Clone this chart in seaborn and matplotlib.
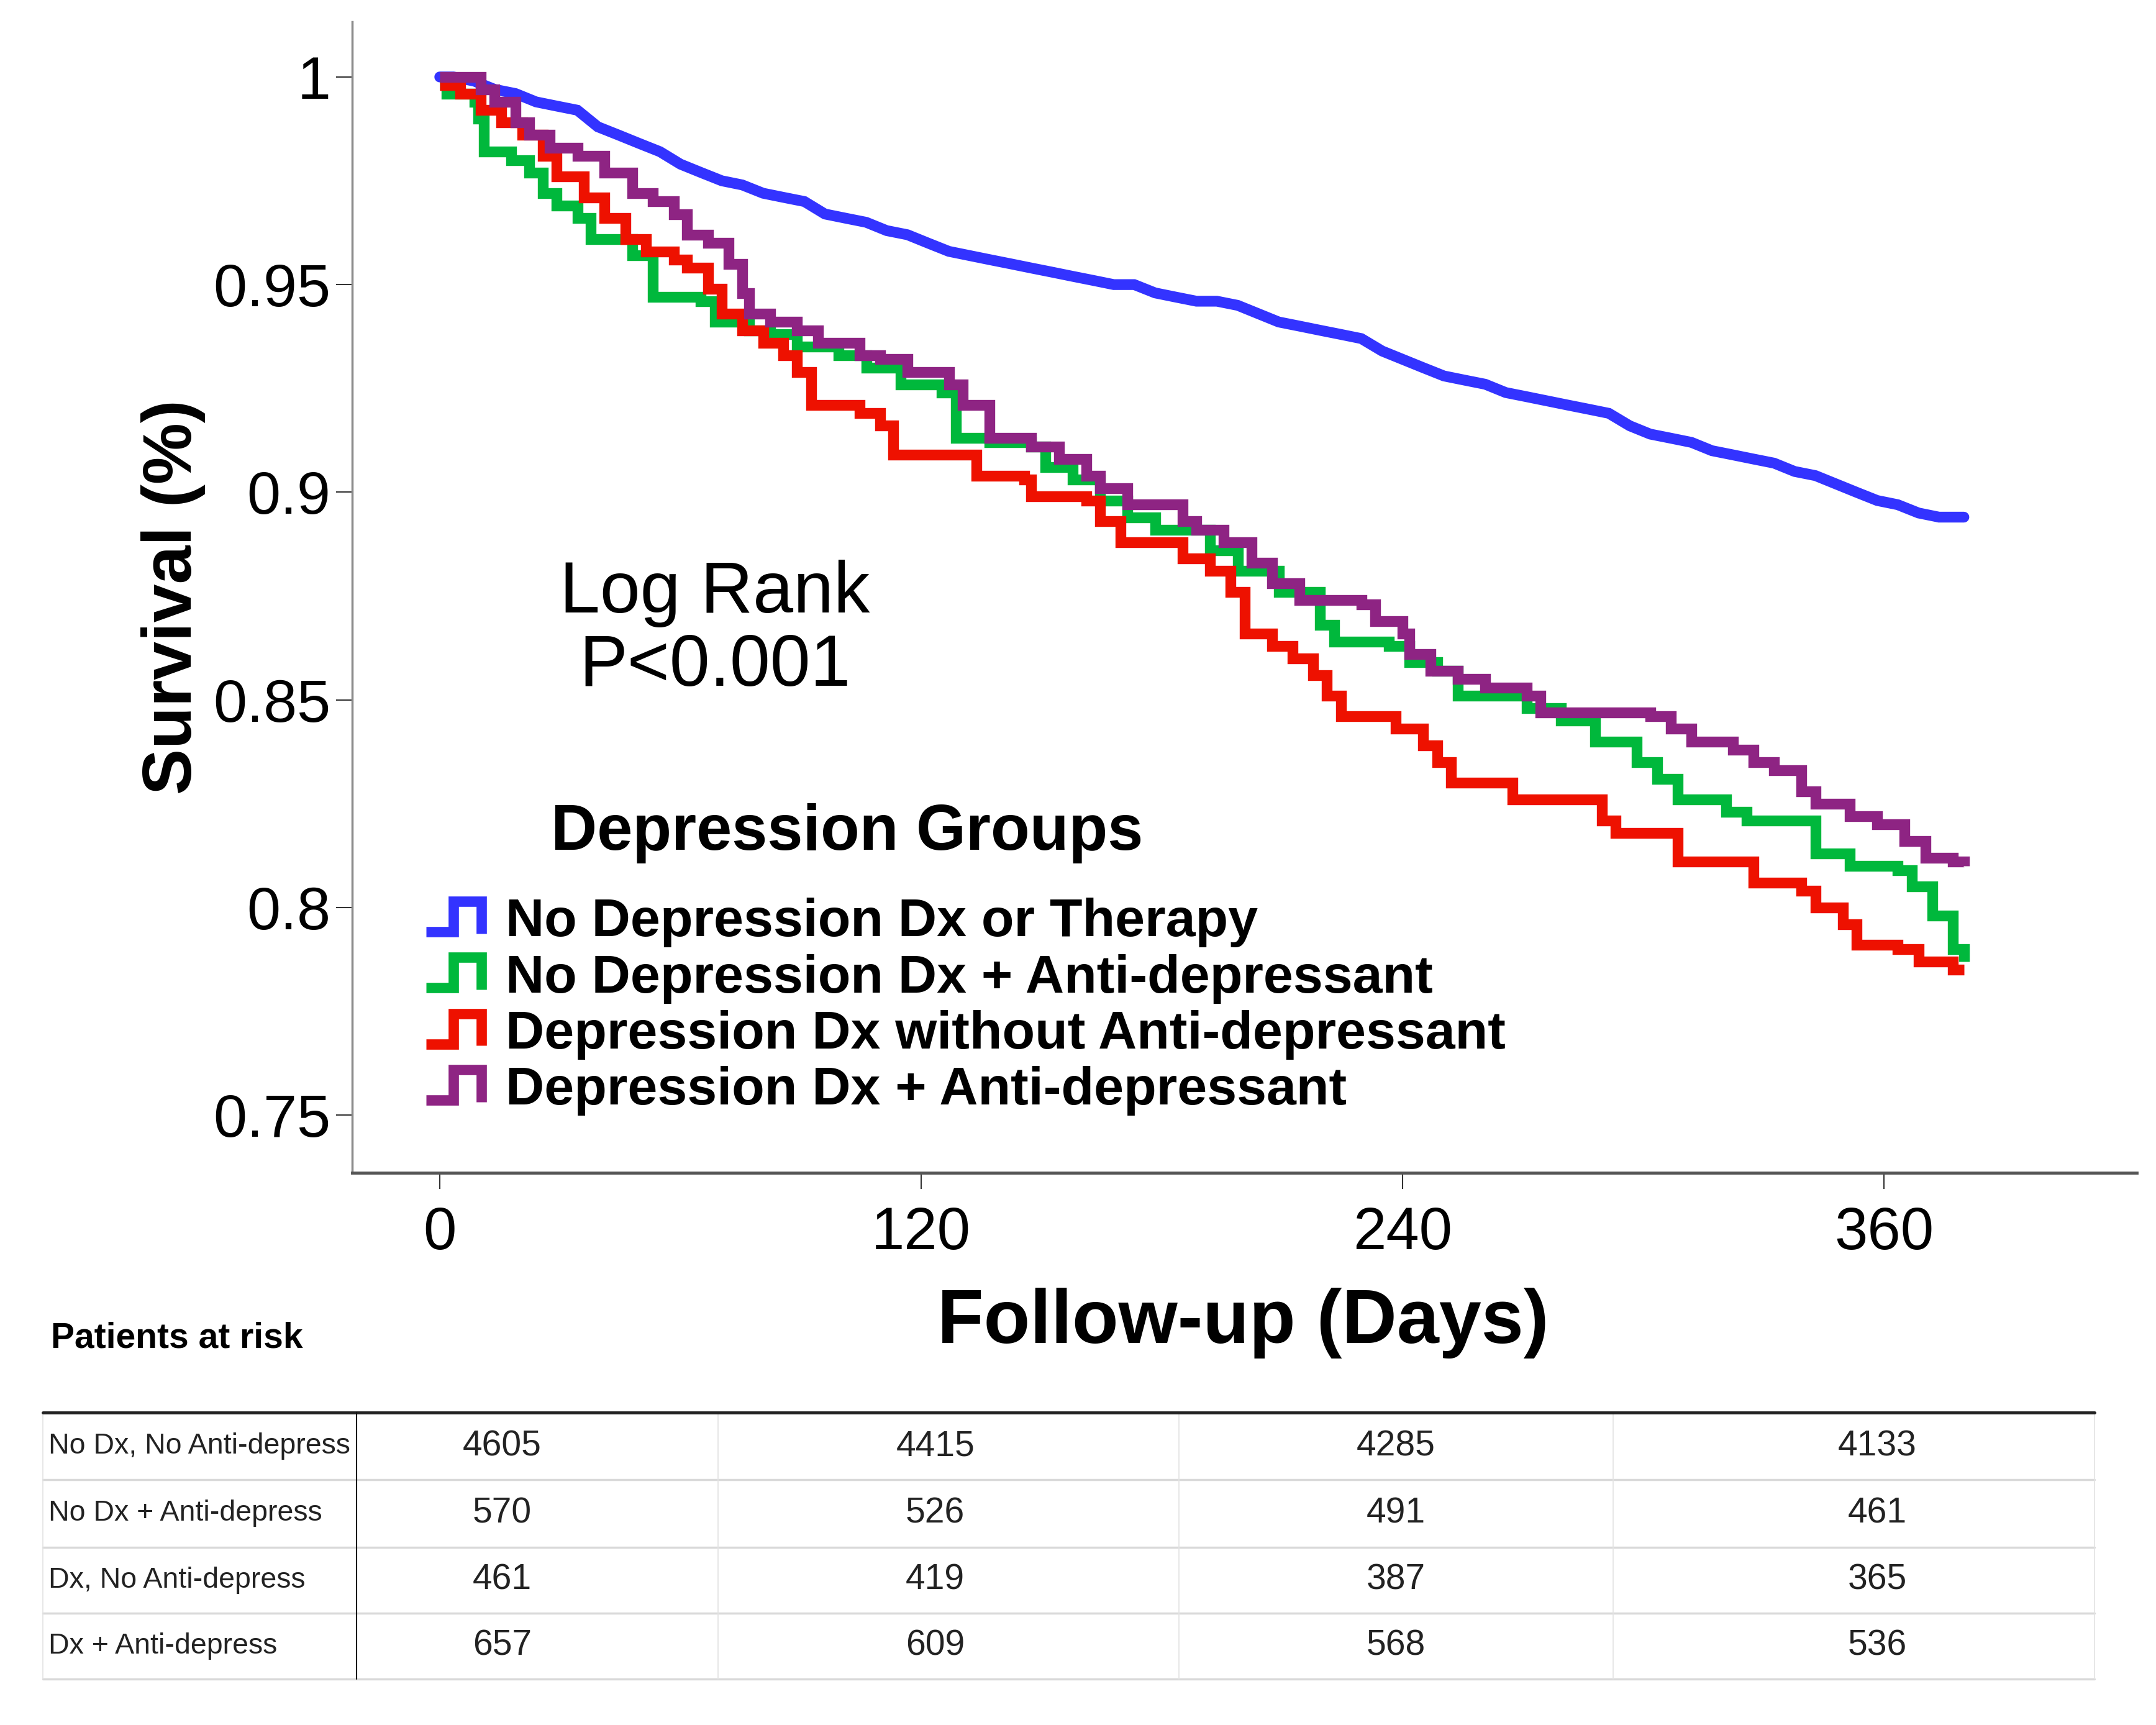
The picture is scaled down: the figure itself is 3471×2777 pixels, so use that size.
import pandas as pd
import seaborn as sns
import matplotlib
matplotlib.use('Agg')
from matplotlib import pyplot as plt
from matplotlib.lines import Line2D
from matplotlib.legend_handler import HandlerBase

# groups / colours
groups = ['No Depression Dx or Therapy', 'No Depression Dx + Anti-depressant',
          'Depression Dx without Anti-depressant', 'Depression Dx + Anti-depressant']
colors = ['#3333ff', '#00b83c', '#ee1100', '#8e2483']

# Kaplan-Meier curves (days, survival)
blue_days = [0, 3.4, 8.6, 13.7, 18.9, 24.0, 29.1, 34.3, 39.4, 44.6, 49.7, 54.9, 60.0, 65.1, 70.3,
             75.4, 80.6, 85.7, 90.9, 96.0, 101.1, 106.3, 111.4, 116.6, 121.7, 126.9, 132.0, 137.1,
             142.3, 147.4, 152.6, 157.7, 162.9, 168.0, 173.1, 178.3, 183.4, 188.6, 193.7, 198.9,
             204.0, 209.1, 214.3, 219.4, 224.6, 229.7, 234.9, 240.0, 245.1, 250.3, 255.4, 260.6,
             265.7, 270.9, 276.0, 281.1, 286.3, 291.4, 296.6, 301.7, 306.9, 312.0, 317.1, 322.3,
             327.4, 332.6, 337.7, 342.9, 348.0, 353.1, 358.3, 363.4, 368.6, 373.7, 379.9]
blue_surv = [1.000, 1.000, 0.999, 0.997, 0.996, 0.994, 0.993, 0.992, 0.988, 0.986, 0.984, 0.982,
             0.979, 0.977, 0.975, 0.974, 0.972, 0.971, 0.970, 0.967, 0.966, 0.965, 0.963, 0.962,
             0.960, 0.958, 0.957, 0.956, 0.955, 0.954, 0.953, 0.952, 0.951, 0.950, 0.950, 0.948,
             0.947, 0.946, 0.946, 0.945, 0.943, 0.941, 0.940, 0.939, 0.938, 0.937, 0.934, 0.932,
             0.930, 0.928, 0.927, 0.926, 0.924, 0.923, 0.922, 0.921, 0.920, 0.919, 0.916, 0.914,
             0.913, 0.912, 0.910, 0.909, 0.908, 0.907, 0.905, 0.904, 0.902, 0.900, 0.898, 0.897,
             0.895, 0.894, 0.894]

green_days = [0, 1.7, 8.6, 9.6, 11.0, 17.8, 22.3, 25.7, 29.1, 34.3, 37.7, 48.0, 53.1, 65.1, 68.6,
              77.1, 82.3, 89.1, 99.4, 106.3, 114.9, 125.1, 128.6, 137.1, 147.4, 150.9, 157.7, 164.6,
              171.4, 178.3, 192.0, 198.9, 209.1, 219.4, 222.9, 236.6, 241.7, 248.6, 253.7, 270.9,
              279.4, 288.0, 298.3, 303.4, 308.6, 320.6, 325.7, 342.9, 351.4, 363.4, 366.9, 372.0,
              377.1, 379.9]
green_surv = [0.998, 0.996, 0.994, 0.990, 0.982, 0.980, 0.977, 0.972, 0.969, 0.966, 0.961, 0.957,
              0.947, 0.946, 0.941, 0.939, 0.938, 0.935, 0.933, 0.930, 0.926, 0.924, 0.913, 0.912,
              0.911, 0.906, 0.903, 0.898, 0.894, 0.891, 0.886, 0.881, 0.876, 0.868, 0.864, 0.863,
              0.859, 0.857, 0.851, 0.848, 0.845, 0.840, 0.835, 0.831, 0.826, 0.823, 0.821, 0.813,
              0.810, 0.809, 0.805, 0.798, 0.790, 0.787]

red_days = [0, 5.1, 10.3, 15.4, 20.6, 25.7, 29.1, 36.0, 41.1, 46.3, 51.4, 58.3, 61.7, 66.9, 70.3,
            75.4, 80.6, 85.7, 89.1, 92.6, 104.6, 109.7, 113.1, 133.7, 145.7, 147.4, 161.1, 164.6,
            169.7, 185.1, 192.0, 197.1, 200.6, 207.4, 212.6, 217.7, 221.1, 224.6, 238.3, 245.1,
            248.6, 252.0, 267.4, 289.7, 293.1, 308.6, 327.4, 339.4, 342.9, 349.7, 353.1, 363.4,
            368.6, 377.1, 379.9]
red_surv = [0.998, 0.996, 0.992, 0.989, 0.986, 0.981, 0.976, 0.971, 0.966, 0.961, 0.958, 0.956,
            0.954, 0.949, 0.943, 0.939, 0.936, 0.933, 0.929, 0.921, 0.919, 0.916, 0.909, 0.904,
            0.903, 0.899, 0.898, 0.893, 0.888, 0.884, 0.881, 0.876, 0.866, 0.863, 0.860, 0.856,
            0.851, 0.846, 0.843, 0.839, 0.835, 0.830, 0.826, 0.821, 0.818, 0.811, 0.806, 0.804,
            0.800, 0.796, 0.791, 0.790, 0.787, 0.785, 0.785]

purple_days = [0, 5.1, 10.3, 13.7, 18.9, 22.3, 27.4, 34.3, 41.1, 48.0, 53.1, 58.3, 61.7, 66.9, 72.0,
               75.4, 77.1, 82.3, 89.1, 94.3, 104.6, 109.7, 116.6, 126.9, 130.3, 137.1, 147.4, 154.3,
               161.1, 164.6, 171.4, 185.1, 188.6, 195.4, 202.3, 207.4, 214.3, 229.7, 233.1, 240.0,
               241.7, 246.9, 253.7, 260.6, 270.9, 274.3, 301.7, 306.9, 312.0, 322.3, 327.4, 332.6,
               339.4, 342.9, 351.4, 358.3, 365.1, 370.3, 377.1, 379.9]
purple_surv = [1.000, 1.000, 0.997, 0.994, 0.989, 0.986, 0.983, 0.981, 0.977, 0.972, 0.970, 0.967,
               0.962, 0.960, 0.955, 0.948, 0.943, 0.941, 0.939, 0.936, 0.933, 0.932, 0.929, 0.926,
               0.921, 0.913, 0.911, 0.908, 0.904, 0.901, 0.897, 0.893, 0.891, 0.888, 0.883, 0.878,
               0.874, 0.873, 0.869, 0.866, 0.861, 0.857, 0.855, 0.853, 0.851, 0.847, 0.846, 0.843,
               0.840, 0.838, 0.835, 0.833, 0.828, 0.825, 0.822, 0.820, 0.816, 0.812, 0.811, 0.810]

x_ticks = [0, 120, 240, 360]
y_ticks = [0.75, 0.8, 0.85, 0.9, 0.95, 1.0]
y_ticklabels = ['0.75', '0.8', '0.85', '0.9', '0.95', '1']

# patients at risk table
risk_labels = ['No Dx, No Anti-depress', 'No Dx + Anti-depress', 'Dx, No Anti-depress', 'Dx + Anti-depress']
risk_none = [4605, 4415, 4285, 4133]
risk_ad = [570, 526, 491, 461]
risk_dx = [461, 419, 387, 365]
risk_dx_ad = [657, 609, 568, 536]

frames = []
for g, d, s in zip(groups, [blue_days, green_days, red_days, purple_days],
                   [blue_surv, green_surv, red_surv, purple_surv]):
    frames.append(pd.DataFrame({'day': d, 'surv': s, 'group': g}))
df = pd.concat(frames, ignore_index=True)

sns.set_style('ticks')
plt.rcParams['font.family'] = ['Liberation Sans', 'DejaVu Sans']
plt.rcParams['text.color'] = 'black'
plt.rcParams['xtick.color'] = 'black'
plt.rcParams['ytick.color'] = 'black'
plt.rcParams['axes.labelcolor'] = 'black'


class StepHandler(HandlerBase):
    def create_artists(self, legend, orig_handle, xdescent, ydescent, width, height, fontsize, trans):
        xs = [0, 0.5, 0.5, 1.0, 1.0]
        ys = [0.1, 0.1, 0.95, 0.95, 0.05]
        ln = Line2D([-xdescent + x * width for x in xs], [-ydescent + y * height for y in ys],
                    color=orig_handle.get_color(), lw=orig_handle.get_linewidth(),
                    solid_joinstyle='miter', solid_capstyle='butt')
        ln.set_transform(trans)
        return [ln]


fig = plt.figure(figsize=(34.71, 27.77), dpi=100)
ax = fig.add_axes([0.1634, 0.3201, 0.8277, 0.6673])
# the large group has many tiny steps, so it reads as a nearly smooth line
sns.lineplot(data=df[df['group'] == groups[0]], x='day', y='surv', color=colors[0],
             linewidth=12.5, estimator=None, legend=False, ax=ax, solid_joinstyle='miter')
sns.lineplot(data=df[df['group'] != groups[0]], x='day', y='surv', hue='group',
             hue_order=groups[1:], palette=colors[1:], drawstyle='steps-post', linewidth=12.5,
             estimator=None, legend=False, ax=ax, solid_joinstyle='miter', solid_capstyle='butt')

ax.set_xlim(-21.8, 423)
ax.set_ylim(0.7361, 1.0133)
ax.set_xticks(x_ticks)
ax.set_xticklabels([str(t) for t in x_ticks])
ax.set_yticks(y_ticks)
ax.set_yticklabels(y_ticklabels)
ax.set_xlabel('')
ax.set_ylabel('')
sns.despine(ax=ax)
ax.spines['left'].set_color('#8c8c8c')
ax.spines['left'].set_linewidth(2.5)
ax.spines['bottom'].set_color('#555555')
ax.spines['bottom'].set_linewidth(3.5)
ax.tick_params(axis='y', length=19, width=1.5, color='#333333', pad=6, labelsize=70)
ax.tick_params(axis='x', length=19, width=1.5, color='#333333', pad=19, labelsize=69)

ax.text(68.6, 0.8668, 'Log Rank\nP<0.001', ha='center', va='center', fontsize=84, linespacing=1.1)

handles = [Line2D([], [], color=c, lw=12) for c in colors]
ax.legend(handles, groups, loc='upper left', bbox_to_anchor=(0.0414, 0.239), frameon=False,
          prop={'weight': 'bold', 'size': 62}, handlelength=1.03, handleheight=0.65,
          handletextpad=0.45, labelspacing=0.12, borderpad=0, borderaxespad=0,
          handler_map={Line2D: StepHandler()})
ax.text(0.2774, 0.2947, 'Depression Groups', transform=ax.transAxes, ha='center', va='center',
        fontsize=74, fontweight='bold')

fig.text(0.0804, 0.654, 'Survival (%)', rotation=90, ha='center', va='center', fontsize=80, fontweight='bold')
fig.text(0.5766, 0.233, 'Follow-up (Days)', ha='center', va='center', fontsize=88, fontweight='bold')
fig.text(0.0236, 0.2243, 'Patients at risk', ha='left', va='center', fontsize=41, fontweight='bold')

# table, drawn in reference pixel units
tab = fig.add_axes([0.01988, 0.02665, 0.9516, 0.1545])
tab.set_xlim(31, 1523)
tab.set_ylim(1220, 1026)
tab.axis('off')
row_edges = [1026, 1075, 1124, 1172, 1220]
num_x = [365, 680, 1015, 1365]
for y in row_edges[1:]:
    tab.plot([31, 1523], [y, y], color='#d9d9d9', lw=2.5, clip_on=False)
for x in [31, 522, 857, 1173, 1523]:
    tab.plot([x, x], [1026, 1220], color='#e3e3e3', lw=1.2, clip_on=False)
tab.plot([31, 1523], [1026, 1026], color='#222222', lw=3.5, clip_on=False)
tab.plot([259, 259], [1026, 1220], color='#111111', lw=1.5, clip_on=False)
for i, (lab, vals) in enumerate(zip(risk_labels, [risk_none, risk_ad, risk_dx, risk_dx_ad])):
    yc = (row_edges[i] + row_edges[i + 1]) / 2
    tab.text(35, yc, lab, ha='left', va='center', fontsize=33.5, color='#222222')
    for x, v in zip(num_x, vals):
        tab.text(x, yc, str(v), ha='center', va='center', fontsize=41, color='#222222')

fig.savefig('out.png', dpi=100)
